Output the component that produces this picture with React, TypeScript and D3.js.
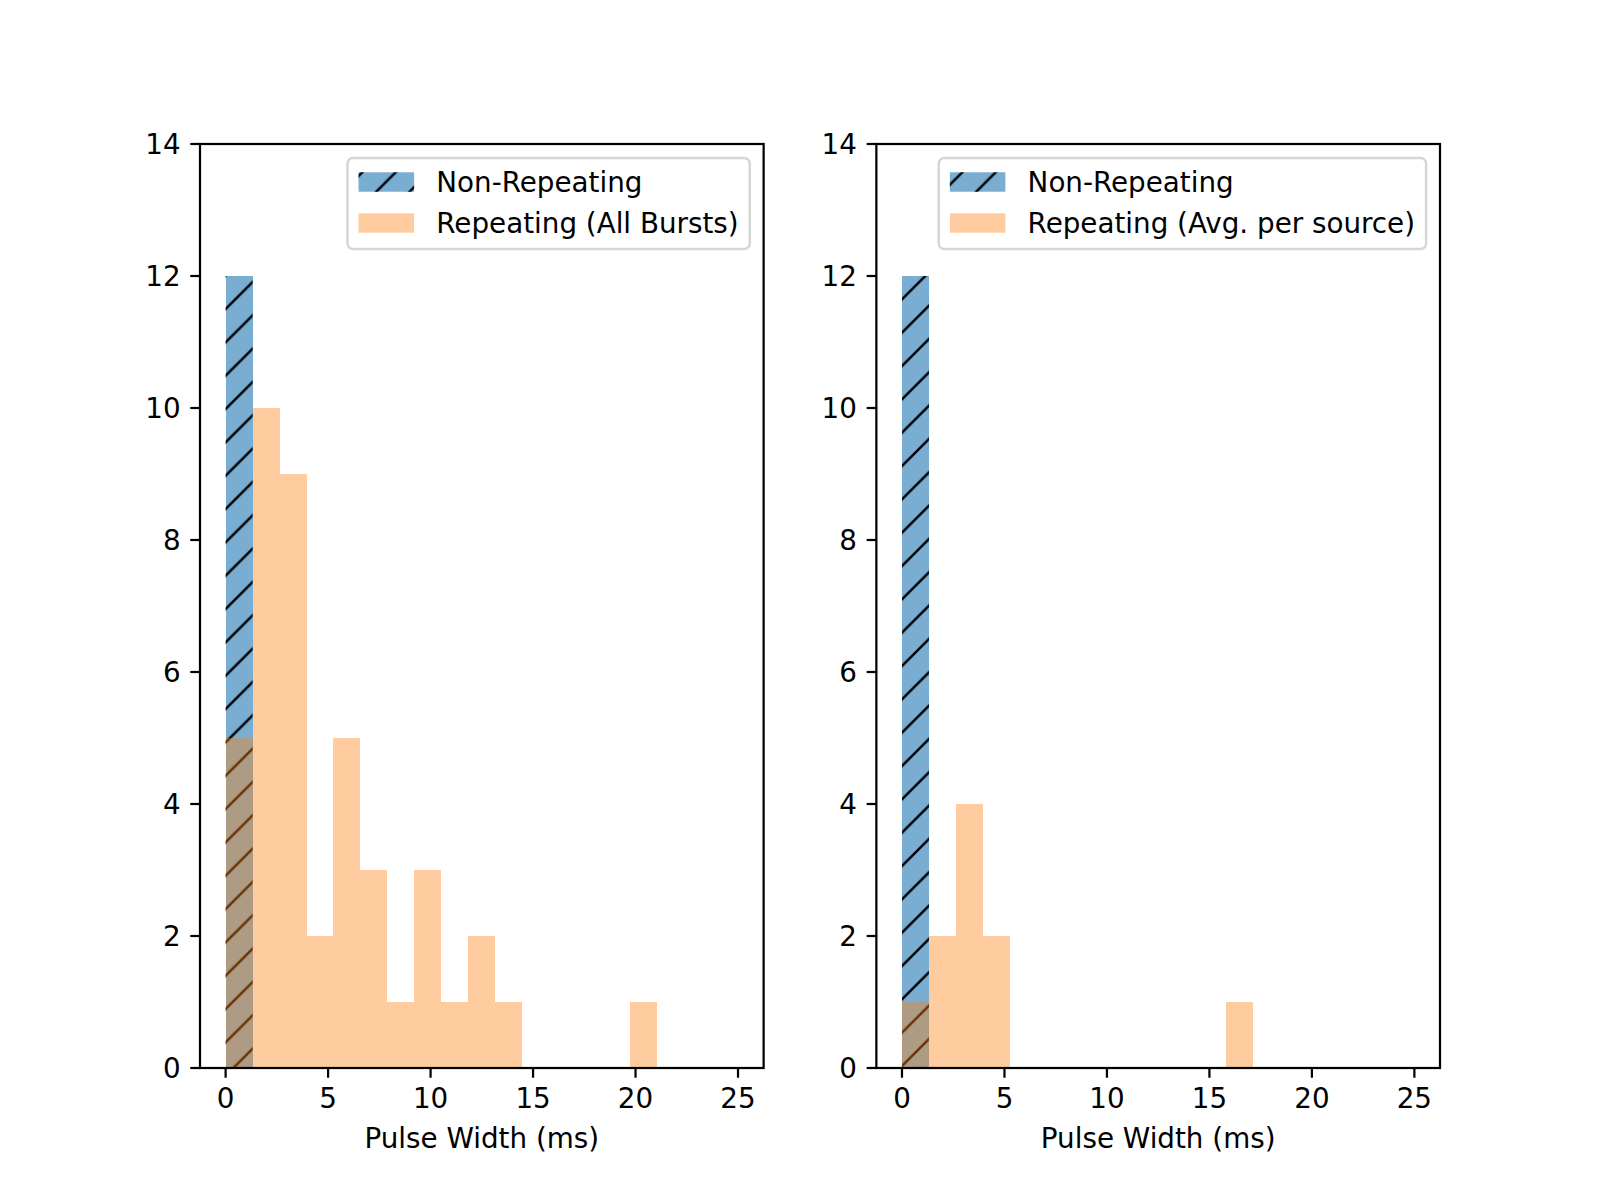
import React, { useEffect, useRef } from 'react';
import * as d3 from 'd3';

// histogram layout: 19 equal bins between 0 and 25 ms
const binCount = 19;
const binMin = 0;
const binMax = 25;

// counts per bin
const nonRepeatingCounts = [12, 0, 0, 0, 0, 0, 0, 0, 0, 0, 0, 0, 0, 0, 0, 0, 0, 0, 0];
const repeatingAllCounts = [5, 10, 9, 2, 5, 3, 1, 3, 1, 2, 1, 0, 0, 0, 0, 1, 0, 0, 0];
const repeatingAvgCounts = [1, 2, 4, 2, 0, 0, 0, 0, 0, 0, 0, 0, 1, 0, 0, 0, 0, 0, 0];

const seriesNames = ['Non-Repeating', 'Repeating (All Bursts)', 'Repeating (Avg. per source)'];
const xTicks = [0, 5, 10, 15, 20, 25];
const yTicks = [0, 2, 4, 6, 8, 10, 12, 14];
const xLabel = 'Pulse Width (ms)';

const panels = [
  { blue: nonRepeatingCounts, orange: repeatingAllCounts, orangeName: seriesNames[1] },
  { blue: nonRepeatingCounts, orange: repeatingAvgCounts, orangeName: seriesNames[2] },
];

const W = 1600;
const H = 1200;
const PT = 200 / 72;
const FS = 10 * PT;
const FONT = '"DejaVu Sans", sans-serif';
const BLUE = '#1f77b4';
const ORANGE = '#ff7f0e';

const App: React.FC = () => {
  const svgRef = useRef<SVGSVGElement>(null);

  useEffect(() => {
    if (!svgRef.current) return;
    const svg = d3.select(svgRef.current);
    svg.selectAll('*').remove();

    const edges = d3.range(binCount + 1).map(i => binMin + (binMax - binMin) * i / binCount);

    // hatch pattern '/' (6 lines per inch)
    const hs = 200 / 6;
    const defs = svg.append('defs');
    const pat = defs.append('pattern')
      .attr('id', 'hatch')
      .attr('patternUnits', 'userSpaceOnUse')
      .attr('x', 1.3).attr('y', 0)
      .attr('width', hs).attr('height', hs);
    pat.append('path')
      .attr('d', `M0,${hs}L${hs},0M-3,3L3,-3M${hs - 3},${hs + 3}L${hs + 3},${hs - 3}`)
      .attr('stroke', '#000')
      .attr('stroke-width', 2.5)
      .attr('fill', 'none');

    svg.append('rect').attr('width', W).attr('height', H).attr('fill', '#fff');

    const axW = 1240 / 2.2;
    const gap = axW * 0.2;
    const top = 144;
    const bottom = 1068;

    panels.forEach((p, pi) => {
      const x0 = 200 + pi * (axW + gap);
      const x1 = x0 + axW;
      const x = d3.scaleLinear().domain([-1.25, 26.25]).range([x0, x1]);
      const y = d3.scaleLinear().domain([0, 14]).range([bottom, top]);
      const g = svg.append('g');

      const bins = (counts: number[]) =>
        counts.map((c, i) => ({ c, a: edges[i], b: edges[i + 1] })).filter(d => d.c > 0);

      // blue bars + hatch
      const blueBins = bins(p.blue);
      g.append('g').attr('shape-rendering', 'crispEdges')
        .selectAll('rect').data(blueBins).join('rect')
        .attr('x', d => x(d.a)).attr('width', d => x(d.b) - x(d.a))
        .attr('y', d => y(d.c)).attr('height', d => y(0) - y(d.c))
        .attr('fill', BLUE).attr('fill-opacity', 0.6);
      g.append('g').selectAll('rect').data(blueBins).join('rect')
        .attr('x', d => x(d.a)).attr('width', d => x(d.b) - x(d.a))
        .attr('y', d => y(d.c)).attr('height', d => y(0) - y(d.c))
        .attr('fill', 'url(#hatch)');

      // orange bars
      g.append('g').attr('shape-rendering', 'crispEdges')
        .selectAll('rect').data(bins(p.orange)).join('rect')
        .attr('x', d => Math.round(x(d.a))).attr('width', d => Math.round(x(d.b)) - Math.round(x(d.a)))
        .attr('y', d => y(d.c)).attr('height', d => y(0) - y(d.c))
        .attr('fill', ORANGE).attr('fill-opacity', 0.4);

      // spines
      g.append('rect')
        .attr('x', x0).attr('y', top).attr('width', axW).attr('height', bottom - top)
        .attr('fill', 'none').attr('stroke', '#000').attr('stroke-width', 0.8 * PT);

      const tickLen = 3.5 * PT;
      const tickPad = 3.5 * PT;

      // x ticks
      const xt = g.append('g').selectAll('g').data(xTicks).join('g')
        .attr('transform', d => `translate(${x(d)},${bottom})`);
      xt.append('line').attr('y2', tickLen).attr('stroke', '#000').attr('stroke-width', 0.8 * PT);
      xt.append('text')
        .attr('y', 40).attr('text-anchor', 'middle')
        .attr('font-family', FONT).attr('font-size', FS).attr('fill', '#000')
        .text(d => String(d));

      // y ticks
      const yt = g.append('g').selectAll('g').data(yTicks).join('g')
        .attr('transform', d => `translate(${x0},${y(d)})`);
      yt.append('line').attr('x2', -tickLen).attr('stroke', '#000').attr('stroke-width', 0.8 * PT);
      yt.append('text')
        .attr('x', -tickLen - tickPad).attr('y', 10).attr('text-anchor', 'end')
        .attr('font-family', FONT).attr('font-size', FS).attr('fill', '#000')
        .text(d => String(d));

      // x label
      g.append('text')
        .attr('x', (x0 + x1) / 2).attr('y', 1148).attr('text-anchor', 'middle')
        .attr('font-family', FONT).attr('font-size', FS).attr('fill', '#000')
        .text(xLabel);

      // legend
      const pad = 0.4 * FS;
      const hLen = 2 * FS;
      const hH = 0.7 * FS;
      const htp = 0.8 * FS;
      const lgTop = 158;
      const lgH = 91;
      const rows = [
        { name: seriesNames[0], kind: 'blue', cy: 182 },
        { name: p.orangeName, kind: 'orange', cy: 223 },
      ];
      const lg = svg.append('g');
      const frame = lg.append('rect');
      const texts = rows.map(r =>
        lg.append('text')
          .attr('font-family', FONT).attr('font-size', FS).attr('fill', '#000')
          .attr('y', r.cy + 9.5)
          .text(r.name)
      );
      const maxW = d3.max(texts, t => (t.node() as SVGTextElement).getComputedTextLength()) || 0;
      const lgW = 2 * pad + hLen + htp + maxW;
      const lgR = x1 - 0.5 * FS;
      const lgL = lgR - lgW;
      frame
        .attr('x', lgL).attr('y', lgTop).attr('width', lgW).attr('height', lgH)
        .attr('rx', 0.2 * FS).attr('ry', 0.2 * FS)
        .attr('fill', '#fff').attr('fill-opacity', 0.8)
        .attr('stroke', '#cccccc').attr('stroke-opacity', 0.8).attr('stroke-width', 2.5);
      texts.forEach(t => t.attr('x', lgL + pad + hLen + htp));
      rows.forEach(r => {
        const hx = lgL + pad;
        const hy = r.cy - hH / 2;
        if (r.kind === 'blue') {
          lg.append('rect').attr('x', hx).attr('y', hy).attr('width', hLen).attr('height', hH)
            .attr('fill', BLUE).attr('fill-opacity', 0.6);
          lg.append('rect').attr('x', hx).attr('y', hy).attr('width', hLen).attr('height', hH)
            .attr('fill', 'url(#hatch)');
        } else {
          lg.append('rect').attr('x', hx).attr('y', hy).attr('width', hLen).attr('height', hH)
            .attr('fill', ORANGE).attr('fill-opacity', 0.4);
        }
      });
    });
  }, []);

  return (
    <svg
      ref={svgRef}
      width={W}
      height={H}
      style={{ position: 'absolute', left: 0, top: 0, display: 'block' }}
    />
  );
};

export default App;
